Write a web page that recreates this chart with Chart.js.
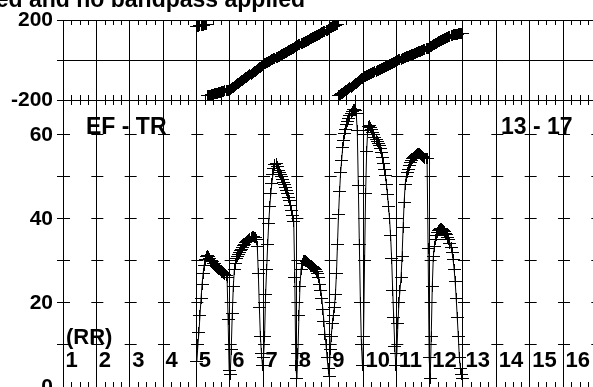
<!DOCTYPE html>
<html><head><meta charset="utf-8">
<script src="https://cdn.jsdelivr.net/npm/chart.js@4"></script>
<style>html,body{margin:0;padding:0;background:#fff;overflow:hidden}canvas{display:block}</style>
</head><body>
<canvas id="c" width="593" height="387" style="width:593px;height:387px"></canvas>
<script>
// ---------- data ----------
const channelsPerIF = 32;
const ifNumbers = [5, 6, 7, 8, 9, 10, 11, 12];

const amp5  = [6, 10, 13, 17, 21, 24.5, 27, 29, 30.3, 31, 31.3, 31, 30.6, 30.2, 30, 29.8, 29.5, 29.3, 29, 28.8, 28.5, 28.3, 28, 27.8, 27.5, 27.2, 27, 26.8, 26.5, 26, 16, 4];
const amp6  = [3, 9, 17.5, 24, 28, 29.5, 30.5, 31, 31.5, 32, 32.4, 32.8, 33.2, 33.6, 34, 34.3, 34.6, 34.9, 35.2, 35.4, 35.6, 35.8, 35.8, 35.7, 35.5, 35.2, 33.5, 27, 19, 12, 8, 5];
const amp7  = [7, 12, 22, 28, 34, 39, 43, 46, 48.5, 50.5, 52, 53, 53.3, 52.6, 51.5, 51, 50.5, 50, 49.5, 48.8, 48.1, 47.5, 46.8, 46, 45.2, 44.3, 43.3, 42, 40.8, 39.5, 26, 5];
const amp8  = [2, 8, 17, 24, 28, 29.5, 30, 30.2, 30, 29.8, 29.6, 29.4, 29.2, 29, 28.8, 28.6, 28.4, 28.2, 28, 27.6, 27, 26, 24.5, 23, 21, 18.5, 15.5, 12.5, 10, 7, 4.5, 2.5];
const amp9  = [9, 12, 15, 17, 19, 22, 27, 34, 41, 46.5, 51, 54, 57, 58.8, 60.3, 61.4, 62.4, 63.3, 64, 64.6, 65.2, 65.7, 66, 66.1, 65.8, 65, 61, 48, 34, 20, 10, 5];
const amp10 = [12, 30, 46, 56, 61, 62, 62.2, 61.8, 61.2, 60.5, 60, 59.5, 59, 58.5, 58, 57.4, 56.8, 55.9, 54.6, 53.1, 51.8, 50.3, 48.3, 45.8, 43, 40, 36, 30.5, 23, 16.5, 9.6, 5];
const amp11 = [8, 15, 20, 23, 26, 31, 38, 44, 48.3, 50, 51, 51.8, 52.8, 53.5, 54, 54.3, 54.6, 54.9, 55.2, 55.4, 55.6, 55.6, 55.5, 55.3, 55, 54.8, 54.6, 54.5, 54.4, 54.3, 33, 7];
const amp12 = [2, 12, 24, 31, 33.5, 35, 36, 36.8, 37.3, 37.6, 37.8, 37.8, 37.6, 37.3, 37, 36.6, 36.2, 35.6, 35, 34.2, 33.3, 32, 30.3, 28, 25, 21, 16.5, 12, 7, 4.5, 3, 2];

const ph5  = [166, 168, 169, 171, 172, 174, 175, 177, 178, 179, -179, -178, -176, -175, -173, -172, -171, -169, -168, -166, -165, -163, -162, -160, -159, -157, -156, -154, -153, -151, -150, -148];
const ph6  = [-146, -142, -138, -135, -131, -127, -123, -119, -116, -112, -108, -104, -100, -97, -93, -89, -85, -81, -78, -74, -70, -66, -62, -58, -55, -51, -47, -43, -39, -36, -32, -28];
const ph7  = [-22, -19, -16, -13, -11, -8, -5, -2, 1, 3, 6, 9, 12, 15, 18, 20, 23, 26, 29, 32, 34, 37, 40, 43, 46, 49, 51, 54, 57, 60, 63, 66];
const ph8  = [70, 73, 76, 78, 81, 84, 87, 89, 92, 95, 97, 100, 103, 106, 108, 111, 114, 117, 119, 122, 125, 127, 130, 133, 136, 138, 141, 144, 147, 149, 152, 155];
const ph9  = [161, 163, 166, 168, 171, 173, 176, 178, -179, -176, -172, -169, -165, -162, -158, -154, -151, -147, -143, -139, -135, -131, -127, -123, -119, -115, -111, -107, -103, -98, -94, -90];
const ph10 = [-85, -83, -80, -78, -75, -73, -70, -68, -65, -63, -60, -58, -55, -53, -50, -48, -45, -43, -40, -38, -35, -33, -30, -28, -25, -23, -20, -18, -15, -13, -10, -8];
const ph11 = [-3, -1, 1, 3, 5, 7, 9, 11, 14, 16, 18, 20, 22, 24, 26, 28, 30, 32, 35, 37, 39, 41, 43, 45, 47, 49, 51, 54, 56, 58, 60, 62];
const ph12 = [67, 70, 73, 76, 79, 82, 85, 88, 91, 94, 97, 100, 102, 105, 108, 110, 113, 115, 118, 120, 122, 124, 126, 127, 128, 129, 130, 131, 131, 132, 132, 133];

const columnLabels = ['1','2','3','4','5','6','7','8','9','10','11','12','13','14','15','16'];
const ampTicks = [0, 10, 20, 30, 40, 50, 60];
const ampTickLabels = [0, 20, 40, 60];
const phaseTicks = [-200, 0, 200];
const phaseTickLabels = [-200, 200];
const titleText = 'Not calibrated and no bandpass applied';
const leftNote = 'EF - TR';
const rightNote = '13 - 17';
const unitNote = '(RR)';

// ---------- build ----------
const FONT = '"Liberation Sans", Arial, Helvetica, sans-serif';
const ampSeries = [amp5, amp6, amp7, amp8, amp9, amp10, amp11, amp12];
const phSeries = [ph5, ph6, ph7, ph8, ph9, ph10, ph11, ph12];
function toPoints(series) {
  const pts = [];
  series.forEach((arr, i) => {
    const k = ifNumbers[i];
    arr.forEach((v, c) => pts.push({x: (k - 1) * channelsPerIF + c + 0.5, y: v}));
  });
  return pts;
}
function makePlus() {
  const c = document.createElement('canvas');
  c.width = 13; c.height = 11;
  const g = c.getContext('2d');
  g.fillStyle = '#000';
  g.fillRect(0, 5, 13, 1);
  g.fillRect(6, 0, 1, 11);
  return c;
}
const plus = makePlus();

const crispMarks = {
  id: 'crispMarks',
  beforeDatasetsDraw(chart) { chart.ctx.save(); chart.ctx.imageSmoothingEnabled = false; },
  afterDatasetsDraw(chart) { chart.ctx.restore(); }
};

const decor = {
  id: 'decor',
  afterDraw(chart) {
    const ctx = chart.ctx;
    const xs = chart.scales.x, yp = chart.scales.yPh, ya = chart.scales.yAmp;
    ctx.save();
    ctx.strokeStyle = '#000';
    ctx.lineWidth = 1;
    ctx.beginPath();
    for (let v = 8; v < xs.max; v += 8) {
      if (v % channelsPerIF === 0) continue;
      const px = Math.round(xs.getPixelForValue(v)) + 0.5;
      const top = yp.getPixelForValue(200), mid = yp.getPixelForValue(-200), bot = ya.getPixelForValue(0);
      ctx.moveTo(px, top); ctx.lineTo(px, top + 5);
      ctx.moveTo(px, mid - 5); ctx.lineTo(px, mid + 5);
      ctx.moveTo(px, bot - 5); ctx.lineTo(px, bot);
    }
    ctx.stroke();

    ctx.fillStyle = '#000';
    ctx.textBaseline = 'alphabetic';
    ctx.font = 'bold 23px ' + FONT;
    ctx.textAlign = 'right';
    ctx.fillText(titleText, 305, 7);
    ctx.textAlign = 'left';
    ctx.fillText(leftNote, 86, 134);
    ctx.fillText(rightNote, 501, 134);
    ctx.font = 'bold 22px ' + FONT;
    ctx.fillText(unitNote, 66, 344);
    columnLabels.forEach((t, i) => {
      ctx.fillText(t, xs.getPixelForValue(i * channelsPerIF) + 2.5, 367);
    });
    ctx.restore();
  }
};

Chart.defaults.font.family = FONT;
new Chart(document.getElementById('c'), {
  type: 'line',
  data: {
    datasets: [
      {label: 'phase', data: toPoints(phSeries), yAxisID: 'yPh', showLine: false,
       pointStyle: plus, pointRadius: 6, borderColor: '#000', backgroundColor: '#000'},
      {label: 'amplitude', data: toPoints(ampSeries), yAxisID: 'yAmp', showLine: true,
       borderColor: '#000', borderWidth: 1, tension: 0, fill: false,
       pointStyle: plus, pointRadius: 6, backgroundColor: '#000'}
    ]
  },
  options: {
    responsive: false, animation: false, events: [],
    layout: {autoPadding: false, padding: {top: 20, left: 0, right: 0, bottom: 0}},
    plugins: {legend: {display: false}, tooltip: {enabled: false}, title: {display: false}},
    scales: {
      x: {
        type: 'linear', position: 'bottom', min: 0, max: 508.8,
        afterFit: s => { s.height = 0; s.paddingLeft = 0; s.paddingRight = 0; },
        afterBuildTicks: s => { s.ticks = columnLabels.map((t, i) => ({value: i * channelsPerIF})); },
        ticks: {display: false},
        grid: {color: '#000', lineWidth: 1, drawTicks: false},
        border: {display: false}
      },
      yAmp: {
        type: 'linear', position: 'left', stack: 'panels', stackWeight: 287,
        min: 0, max: 68.33,
        afterFit: s => { s.width = 63; s.paddingTop = 0; s.paddingBottom = 0; },
        afterBuildTicks: s => { s.ticks = ampTicks.map(v => ({value: v})); },
        ticks: {autoSkip: false, padding: 4, color: '#000',
                font: {size: 21, weight: 'bold'},
                callback: v => ampTickLabels.includes(v) ? String(v) : ''},
        grid: {color: '#000', lineWidth: 1, drawTicks: true, tickLength: 6, tickColor: '#000'},
        border: {display: true, color: '#000', width: 1, dash: [12, 21.333], dashOffset: 6}
      },
      yPh: {
        type: 'linear', position: 'left', stack: 'panels', stackWeight: 80,
        min: -200, max: 200,
        afterFit: s => { s.width = 63; s.paddingTop = 0; s.paddingBottom = 0; },
        afterBuildTicks: s => { s.ticks = phaseTicks.map(v => ({value: v})); },
        ticks: {autoSkip: false, padding: 4, color: '#000',
                font: {size: 21, weight: 'bold'},
                callback: v => phaseTickLabels.includes(v) ? String(v) : ''},
        grid: {color: '#000', lineWidth: 1, drawTicks: true, tickLength: 6, tickColor: '#000'},
        border: {display: true, color: '#000', width: 1}
      }
    }
  },
  plugins: [crispMarks, decor]
});
</script>
</body></html>
